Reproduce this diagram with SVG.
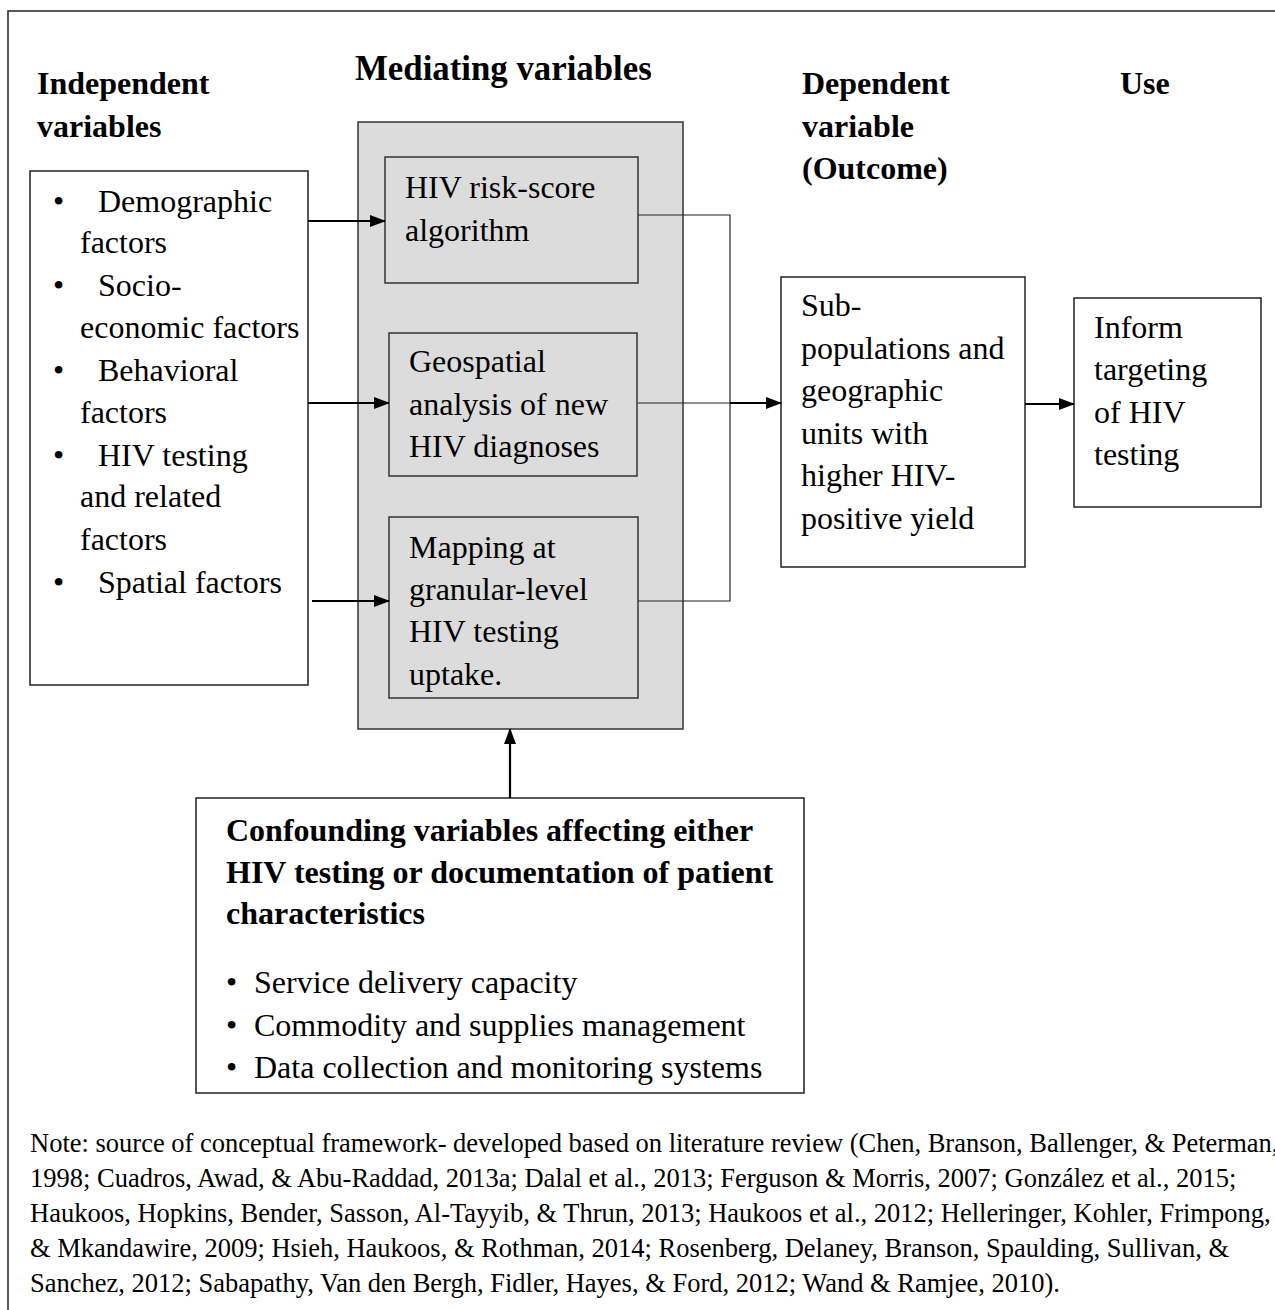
<svg xmlns="http://www.w3.org/2000/svg" width="1275" height="1310" viewBox="0 0 1275 1310">
<defs>
<style>
text{font-family:"Liberation Serif","Times New Roman",serif;fill:#000}
.h{font-size:32px;font-weight:bold}
.b{font-size:32px}
.n{font-size:26.5px}
.box{fill:#fff;stroke:#222;stroke-width:1.5}
.gbox{fill:#dcdcdc;stroke:#333;stroke-width:1.5}
.thin{stroke:#222;stroke-width:1.2;fill:none}
.arr{stroke:#000;stroke-width:2.2;fill:none;marker-end:url(#ah)}
</style>
<marker id="ah" markerWidth="16" markerHeight="12" refX="15" refY="6" orient="auto" markerUnits="userSpaceOnUse">
<path d="M0,0 L16,6 L0,12 Z" fill="#000"/>
</marker>
</defs>
<rect width="1275" height="1310" fill="#fff"/>
<rect x="8" y="11" width="1290" height="1320" fill="none" stroke="#222" stroke-width="1.5"/>

<g id="headings">
<text class="h" x="37" y="94">Independent</text>
<text class="h" x="37" y="137">variables</text>
<text class="h" x="355" y="80" style="font-size:34.8px">Mediating variables</text>
<text class="h" x="802" y="94">Dependent</text>
<text class="h" x="802" y="137">variable</text>
<text class="h" x="802" y="179">(Outcome)</text>
<text class="h" x="1120" y="94">Use</text>
</g>

<g id="independent">
<rect class="box" x="30" y="171" width="278" height="514"/>
<text class="b" x="53" y="212">•</text><text class="b" x="98" y="212">Demographic</text>
<text class="b" x="80" y="253">factors</text>
<text class="b" x="53" y="296">•</text><text class="b" x="98" y="296">Socio-</text>
<text class="b" x="80" y="338">economic factors</text>
<text class="b" x="53" y="381">•</text><text class="b" x="98" y="381">Behavioral</text>
<text class="b" x="80" y="423">factors</text>
<text class="b" x="53" y="466">•</text><text class="b" x="98" y="466">HIV testing</text>
<text class="b" x="80" y="507">and related</text>
<text class="b" x="80" y="550">factors</text>
<text class="b" x="53" y="593">•</text><text class="b" x="98" y="593">Spatial factors</text>
</g>

<g id="mediating">
<rect class="gbox" x="358" y="122" width="325" height="607"/>
</g>

<g id="risk-score">
<rect class="gbox" x="385" y="157" width="253" height="126"/>
<text class="b" x="405" y="198">HIV risk-score</text>
<text class="b" x="405" y="241">algorithm</text>
</g>

<g id="geospatial">
<rect class="gbox" x="389" y="333" width="248" height="143"/>
<text class="b" x="409" y="372">Geospatial</text>
<text class="b" x="409" y="415">analysis of new</text>
<text class="b" x="409" y="457">HIV diagnoses</text>
</g>

<g id="mapping">
<rect class="gbox" x="389" y="517" width="249" height="181"/>
<text class="b" x="409" y="558">Mapping at</text>
<text class="b" x="409" y="600">granular-level</text>
<text class="b" x="409" y="642">HIV testing</text>
<text class="b" x="409" y="685">uptake.</text>
</g>

<g id="dependent">
<rect class="box" x="781" y="277" width="244" height="290"/>
<text class="b" x="801" y="316">Sub-</text>
<text class="b" x="801" y="359">populations and</text>
<text class="b" x="801" y="401">geographic</text>
<text class="b" x="801" y="444">units with</text>
<text class="b" x="801" y="486">higher HIV-</text>
<text class="b" x="801" y="529">positive yield</text>
</g>

<g id="use">
<rect class="box" x="1074" y="298" width="187" height="209"/>
<text class="b" x="1094" y="338">Inform</text>
<text class="b" x="1094" y="380">targeting</text>
<text class="b" x="1094" y="423">of HIV</text>
<text class="b" x="1094" y="465">testing</text>
</g>

<g id="confounding">
<rect class="box" x="196" y="798" width="608" height="295"/>
<text class="h" x="226" y="841">Confounding variables affecting either</text>
<text class="h" x="226" y="883">HIV testing or documentation of patient</text>
<text class="h" x="226" y="924">characteristics</text>
<text class="b" x="226" y="993">•</text><text class="b" x="254" y="993">Service delivery capacity</text>
<text class="b" x="226" y="1036">•</text><text class="b" x="254" y="1036">Commodity and supplies management</text>
<text class="b" x="226" y="1078">•</text><text class="b" x="254" y="1078">Data collection and monitoring systems</text>
</g>

<g id="connectors">
<line class="arr" x1="308" y1="221" x2="385" y2="221"/>
<line class="arr" x1="308" y1="403" x2="389" y2="403"/>
<line class="arr" x1="312" y1="601" x2="389" y2="601"/>
<polyline class="thin" points="638,215 730,215 730,601 638,601"/>
<line class="thin" x1="638" y1="403" x2="730" y2="403"/>
<line class="arr" x1="730" y1="403" x2="781" y2="403"/>
<line class="arr" x1="1025" y1="404" x2="1074" y2="404"/>
<line class="arr" x1="510" y1="798" x2="510" y2="729"/>
</g>

<g id="note">
<text class="n" x="30" y="1152">Note: source of conceptual framework- developed based on literature review (Chen, Branson, Ballenger, &amp; Peterman,</text>
<text class="n" x="30" y="1187">1998; Cuadros, Awad, &amp; Abu-Raddad, 2013a; Dalal et al., 2013; Ferguson &amp; Morris, 2007; González et al., 2015;</text>
<text class="n" x="30" y="1222">Haukoos, Hopkins, Bender, Sasson, Al-Tayyib, &amp; Thrun, 2013; Haukoos et al., 2012; Helleringer, Kohler, Frimpong,</text>
<text class="n" x="30" y="1257">&amp; Mkandawire, 2009; Hsieh, Haukoos, &amp; Rothman, 2014; Rosenberg, Delaney, Branson, Spaulding, Sullivan, &amp;</text>
<text class="n" x="30" y="1292">Sanchez, 2012; Sabapathy, Van den Bergh, Fidler, Hayes, &amp; Ford, 2012; Wand &amp; Ramjee, 2010).</text>
</g>
</svg>
